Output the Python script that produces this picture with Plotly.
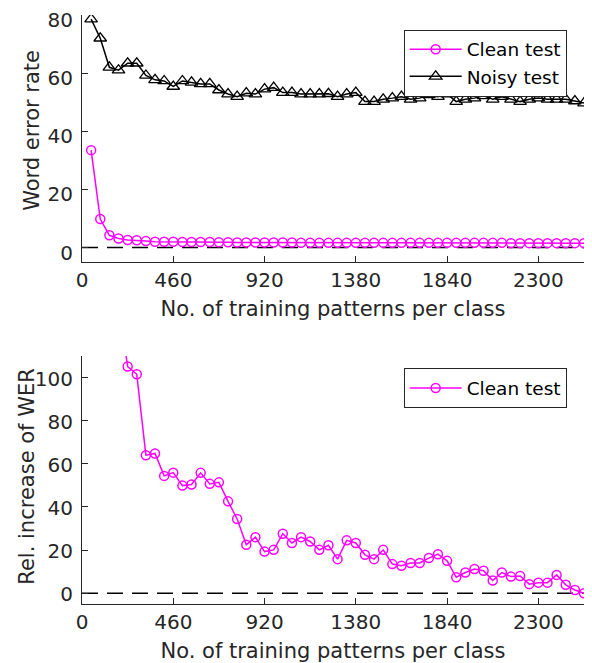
import plotly.graph_objects as go

# ---------------- data ----------------
patterns = [46, 92, 138, 184, 230, 276, 322, 368, 414, 460,
            506, 552, 598, 644, 690, 736, 782, 828, 874, 920,
            966, 1012, 1058, 1104, 1150, 1196, 1242, 1288, 1334, 1380,
            1426, 1472, 1518, 1564, 1610, 1656, 1702, 1748, 1794, 1840,
            1886, 1932, 1978, 2024, 2070, 2116, 2162, 2208, 2254, 2300,
            2346, 2392, 2438, 2484, 2530]

clean_wer = [33.5, 9.8, 4.2, 3.1, 2.6, 2.5, 2.2, 2.0, 2.0, 2.0,
             1.9, 1.9, 1.9, 1.9, 1.8, 1.8, 1.7, 1.7, 1.7, 1.7,
             1.7, 1.7, 1.7, 1.6, 1.6, 1.6, 1.6, 1.6, 1.6, 1.6,
             1.6, 1.6, 1.6, 1.6, 1.6, 1.6, 1.6, 1.6, 1.6, 1.6,
             1.6, 1.6, 1.6, 1.6, 1.6, 1.6, 1.5, 1.5, 1.5, 1.5,
             1.5, 1.5, 1.5, 1.5, 1.5]

noisy_wer = [78.6, 72.0, 62.0, 61.0, 63.4, 63.4, 59.2, 57.7, 57.3, 55.4,
             57.3, 56.8, 56.3, 56.3, 54.2, 52.8, 51.9, 53.1, 52.8, 54.5,
             55.0, 53.3, 53.3, 52.8, 52.8, 52.8, 52.9, 51.9, 52.8, 53.3,
             50.2, 50.2, 51.0, 51.4, 51.9, 51.0, 51.4, 52.5, 51.9, 52.8,
             50.2, 51.0, 51.4, 52.2, 51.0, 51.9, 51.0, 50.2, 51.0, 51.4,
             51.0, 51.0, 51.0, 50.4, 49.7]

rel_increase = [300.0, 220.0, 170.0, 134.0, 105.1, 101.5, 64.0, 64.8, 54.4, 55.9,
                49.9, 50.4, 55.8, 50.7, 51.4, 42.6, 34.4, 22.5, 26.0, 19.3,
                20.1, 27.6, 23.3, 26.0, 24.0, 20.1, 22.2, 15.8, 24.5, 23.3,
                17.8, 15.8, 20.1, 13.5, 12.7, 14.0, 14.0, 16.3, 18.1, 15.0,
                7.4, 9.6, 11.2, 10.4, 5.9, 9.6, 7.7, 8.0, 4.2, 4.9,
                4.9, 8.5, 3.9, 1.5, 0.0]

zero_x = [0, 2530]
zero_y = [0, 0]

x_ticks = [0, 460, 920, 1380, 1840, 2300]
top_y_ticks = [0, 20, 40, 60, 80]
bottom_y_ticks = [0, 20, 40, 60, 80, 100]

x_title = "No. of training patterns per class"
top_y_title = "Word error rate"
bottom_y_title = "Rel. increase of WER"

# ---------------- styles ----------------
MAG = "#FF00FF"
AX = "#262626"
FONT = "DejaVu Sans, Liberation Sans, Arial, sans-serif"
FS_TICK = 20
FS_TITLE = 21
FS_LEG = 18.5

# page has an 8px body margin, figure sized to fit inside the window
W, H = 584, 655
ML, MR, MT, MB = 74, 8, 7, 59

fig = go.Figure()

# top plot
fig.add_trace(go.Scatter(x=zero_x, y=zero_y, mode="lines",
                         line=dict(color="black", width=1.5, dash="16px,9px"),
                         showlegend=False, hoverinfo="skip",
                         xaxis="x", yaxis="y"))
fig.add_trace(go.Scatter(x=patterns, y=clean_wer, mode="lines+markers", name="Clean test",
                         line=dict(color=MAG, width=1.5),
                         marker=dict(symbol="circle-open", size=9, color=MAG, line=dict(width=1.5)),
                         xaxis="x", yaxis="y", legend="legend"))
fig.add_trace(go.Scatter(x=patterns, y=noisy_wer, mode="lines+markers", name="Noisy test",
                         line=dict(color="black", width=1.5),
                         marker=dict(symbol="triangle-up-open", size=11, color="black", line=dict(width=1.3)),
                         xaxis="x", yaxis="y", legend="legend"))

# bottom plot
fig.add_trace(go.Scatter(x=zero_x, y=zero_y, mode="lines",
                         line=dict(color="black", width=1.5, dash="16px,9px"),
                         showlegend=False, hoverinfo="skip",
                         xaxis="x2", yaxis="y2"))
fig.add_trace(go.Scatter(x=patterns, y=rel_increase, mode="lines+markers", name="Clean test",
                         line=dict(color=MAG, width=1.5),
                         marker=dict(symbol="circle-open", size=9, color=MAG, line=dict(width=1.5)),
                         xaxis="x2", yaxis="y2", legend="legend2"))

axis_common = dict(showline=True, linecolor=AX, linewidth=1, ticks="inside", ticklen=6,
                   tickcolor=AX, tickwidth=1, showgrid=False, zeroline=False, automargin=False,
                   ticklabeloverflow="allow",
                   tickfont=dict(family=FONT, size=FS_TICK, color=AX))
xtitle = dict(text=x_title, font=dict(family=FONT, size=FS_TITLE, color=AX), standoff=10)

top_dom = [0.5806, 1.0]
bot_dom = [0.0, 0.4211]

fig.update_layout(
    width=W, height=H,
    margin=dict(l=ML, r=MR, t=MT, b=MB),
    paper_bgcolor="white", plot_bgcolor="white",
    font=dict(family=FONT, size=FS_TICK, color=AX),
    xaxis=dict(**axis_common, range=[0, 2530], tickvals=x_ticks, anchor="y", title=xtitle),
    yaxis=dict(**axis_common, range=[-5, 80], tickvals=top_y_ticks, domain=top_dom, anchor="x",
               ticklabelstandoff=4, ticklabelshift=5),
    xaxis2=dict(**axis_common, range=[0, 2530], tickvals=x_ticks, anchor="y2", title=xtitle),
    yaxis2=dict(**axis_common, range=[-5, 110], tickvals=bottom_y_ticks, domain=bot_dom, anchor="x2",
                ticklabelstandoff=4, ticklabelshift=1),
    legend=dict(x=0.9655, y=0.975, xanchor="right", yanchor="top",
                bgcolor="white", bordercolor=AX, borderwidth=1,
                font=dict(family=FONT, size=FS_LEG, color="black"),
                itemwidth=52, tracegroupgap=0),
    legend2=dict(x=0.9655, y=0.400, xanchor="right", yanchor="top",
                 bgcolor="white", bordercolor=AX, borderwidth=1,
                 font=dict(family=FONT, size=FS_LEG, color="black"),
                 itemwidth=52),
    annotations=[
        dict(text=top_y_title, textangle=-90, xref="paper", yref="paper",
             x=0, y=0.8034, xanchor="center", yanchor="middle", xshift=-50, showarrow=False,
             font=dict(family=FONT, size=FS_TITLE, color=AX)),
        dict(text=bottom_y_title, textangle=-90, xref="paper", yref="paper",
             x=0, y=0.2161, xanchor="center", yanchor="middle", xshift=-55, showarrow=False,
             font=dict(family=FONT, size=FS_TITLE, color=AX)),
    ],
)

fig.write_html("out.html")
